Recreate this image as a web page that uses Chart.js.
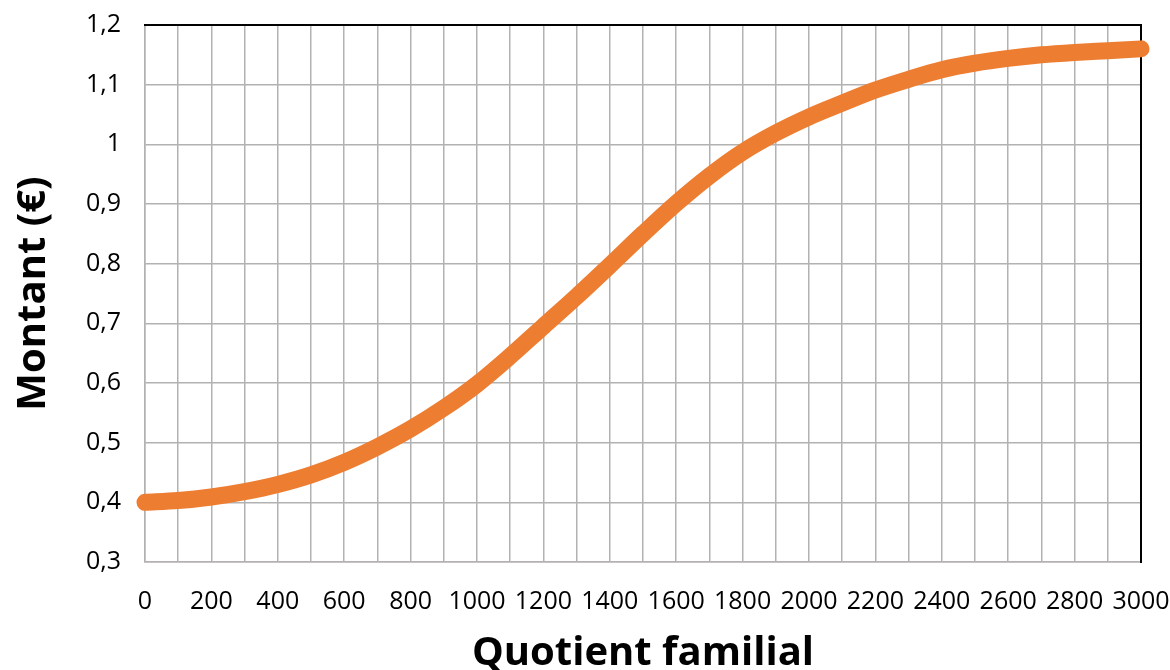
<!DOCTYPE html>
<html>
<head>
<meta charset="utf-8">
<script src="https://cdn.jsdelivr.net/npm/chart.js@4/dist/chart.umd.min.js"></script>
<style>
  body { margin: 0; background: #fff; }
  #wrap { width: 1170px; height: 670px; }
</style>
</head>
<body>
<div id="wrap"><canvas id="chart"></canvas></div>
<script>
const ctx = document.getElementById("chart");

// quotient familial (x) et montant en euros (y)
const quotient = [0, 100, 200, 300, 400, 500, 600, 700, 800, 900,
                  1000, 1100, 1200, 1300, 1400, 1500, 1600, 1700, 1800, 1900,
                  2000, 2100, 2200, 2300, 2400, 2500, 2600, 2700, 2800, 2900, 3000];
const montant = [0.400, 0.403, 0.409, 0.418, 0.430, 0.446, 0.467, 0.493, 0.523, 0.558,
                 0.598, 0.645, 0.695, 0.745, 0.797, 0.850, 0.901, 0.947, 0.987, 1.019,
                 1.046, 1.069, 1.091, 1.109, 1.125, 1.136, 1.144, 1.150, 1.154, 1.157, 1.160];

const xMin = 0, xMax = 3000, xStep = 100, xLabelStep = 200;
const yMin = 0.3, yMax = 1.2, yStep = 0.1;

const xTitle = "Quotient familial";
const yTitle = "Montant (€)";

var points = [];
for (let i = 0; i < quotient.length; i++) {
  points.push({ x: quotient[i], y: montant[i] });
}

const tickFont = { family: "'Open Sans'", size: 25 };
const titleFont = { family: "'Open Sans'", size: 40, weight: "bold" };
const gridColor = "#b4b1b1";

// labels may hang over the plot edges, the layout padding decides the plot box
function noOverhang(scale) {
  scale.paddingTop = 0;
  scale.paddingBottom = 0;
  scale.paddingLeft = 0;
  scale.paddingRight = 0;
}

new Chart(ctx, {
  type: "scatter",
  data: {
    datasets: [
      {
        label: yTitle,
        data: points,
        showLine: true,
        borderColor: "#ED7D31",
        backgroundColor: "#ED7D31",
        borderWidth: 17,
        borderCapStyle: "round",
        borderJoinStyle: "round",
        cubicInterpolationMode: "monotone",
        pointRadius: 0,
        pointHoverRadius: 0,
        clip: false,
      },
    ],
  },
  options: {
    responsive: true,
    maintainAspectRatio: false,
    animation: false,
    layout: { padding: { top: 25, right: 29, left: 0, bottom: 0 } },
    plugins: {
      legend: { display: false },
      tooltip: { enabled: false },
    },
    scales: {
      x: {
        type: "linear",
        min: xMin,
        max: xMax,
        ticks: {
          stepSize: xStep,
          autoSkip: false,
          maxRotation: 0,
          color: "#000",
          font: tickFont,
          padding: 25,
          callback: function (v) {
            return v % xLabelStep === 0 ? String(v) : "";
          },
        },
        grid: { color: gridColor, lineWidth: 1.5, drawTicks: false },
        border: { color: gridColor, width: 1.5 },
        title: {
          display: true,
          text: xTitle,
          color: "#000",
          font: titleFont,
          padding: { top: 0, bottom: -8 },
        },
        afterFit: function (scale) {
          scale.height = 108;
          noOverhang(scale);
        },
      },
      y: {
        type: "linear",
        min: yMin,
        max: yMax,
        ticks: {
          stepSize: yStep,
          color: "#000",
          font: tickFont,
          padding: 24,
          callback: function (v) {
            return String(Math.round(v * 10) / 10).replace(".", ",");
          },
        },
        grid: { color: gridColor, lineWidth: 1.5, drawTicks: false },
        border: { color: gridColor, width: 1.5 },
        title: {
          display: true,
          text: yTitle,
          color: "#000",
          font: titleFont,
          padding: { top: 10, bottom: 0 },
        },
        afterFit: function (scale) {
          scale.width = 145;
          noOverhang(scale);
        },
      },
      xTop: {
        type: "linear",
        position: "top",
        min: xMin,
        max: xMax,
        ticks: { display: false },
        grid: { display: false, drawTicks: false },
        border: { color: "#000", width: 2 },
        afterFit: function (scale) {
          scale.height = 0;
          noOverhang(scale);
        },
      },
      yRight: {
        type: "linear",
        position: "right",
        min: yMin,
        max: yMax,
        ticks: { display: false },
        grid: { display: false, drawTicks: false },
        border: { color: "#000", width: 2 },
        afterFit: function (scale) {
          scale.width = 0;
          noOverhang(scale);
        },
      },
    },
  },
});
</script>
</body>
</html>
